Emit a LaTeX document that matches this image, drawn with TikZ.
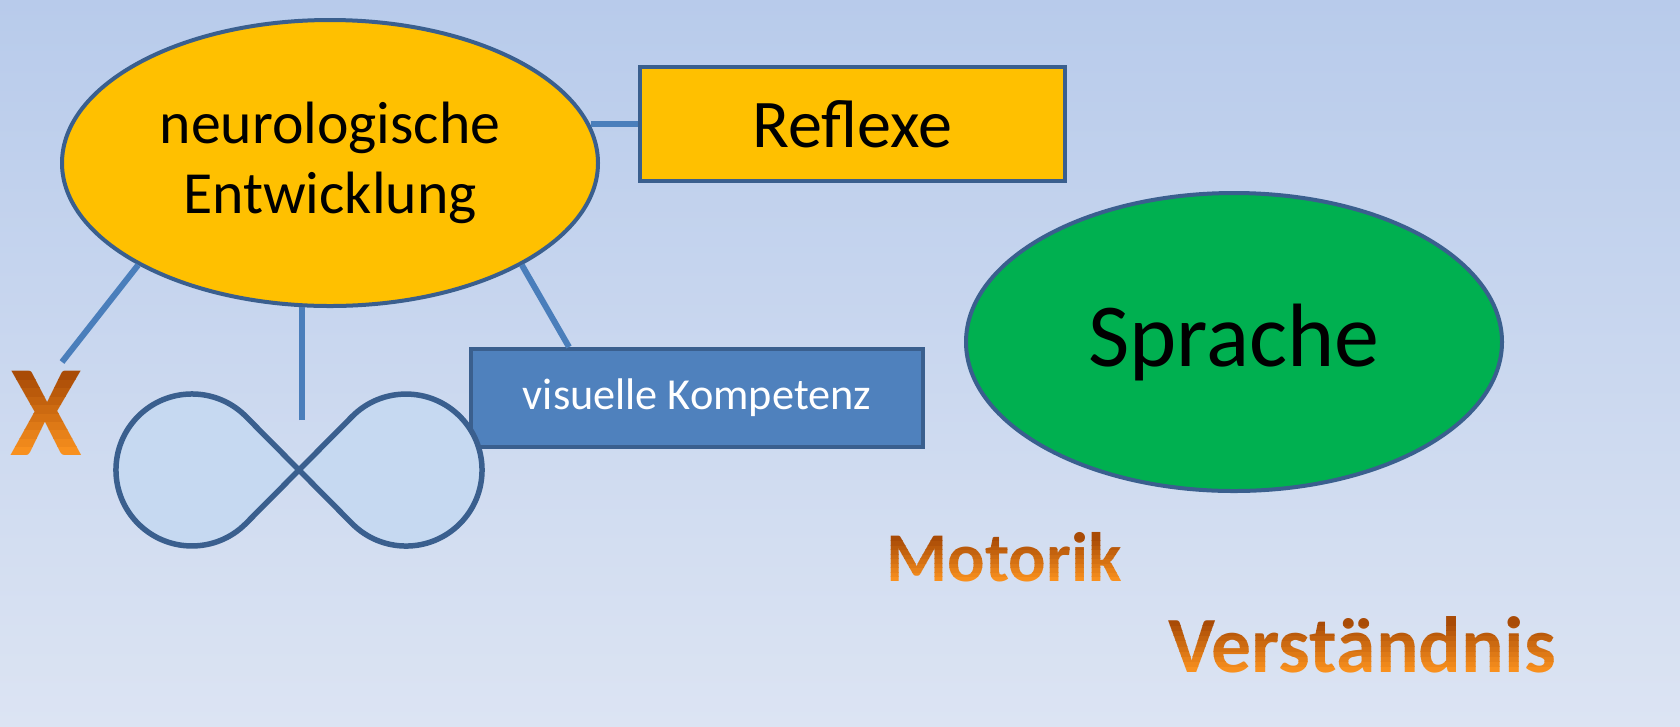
\documentclass[tikz,border=0pt]{standalone}
\usepackage{fontspec}
\setmainfont{Carlito}
\usepackage{tikz}
\usetikzlibrary{calc,shapes.geometric}
\definecolor{bgtop}{HTML}{B8CBEB}
\definecolor{bgbottom}{HTML}{DCE4F3}
\definecolor{blueline}{HTML}{3A5F8E}
\definecolor{bluelink}{HTML}{4A7EBB}
\definecolor{bluebox}{HTML}{4F81BD}
\definecolor{infinityfill}{HTML}{C6D9F1}
\definecolor{gold}{HTML}{FFC000}
\definecolor{leafgreen}{HTML}{00B050}
\definecolor{orangetop}{HTML}{A84A06}
\definecolor{orangebottom}{HTML}{F8901E}
% word with a top-to-bottom colour ramp: name, position, font size, cap height, text
\def\gradword#1(#2)#3#4#5{
	\foreach \i in {0,...,9} {
		\pgfmathsetmacro{\lowy}{ifthenelse(\i==0, -1, #4*\i/10)}
		\pgfmathsetmacro{\highy}{ifthenelse(\i==9, 2, #4*(\i+1)/10)}
		\pgfmathtruncatemacro{\mixval}{\i*11}
		\begin{scope}
			\clip ($(#2)+(-4, \lowy)$) rectangle ($(#2)+(4, \highy)$);
			\node[anchor=base, inner sep=0pt, text=orangetop!\mixval!orangebottom,
				font=\fontsize{#3}{#3}\bfseries] (#1-\i) at (#2) {#5};
		\end{scope}
	}
}

\begin{document}
\begin{tikzpicture}[
		bubble/.style={ellipse, draw=blueline, line width=0.4mm, inner sep=0pt},
		box/.style={rectangle, draw=blueline, line width=0.4mm, inner sep=0pt},
		link/.style={draw=bluelink, line width=0.6mm}
	]
		%%%%% START %%%%%
		
		\useasboundingbox (0, 0) rectangle (16.8, 7.26);
		\shade[top color=bgtop, bottom color=bgbottom] (0, 0) rectangle (16.8, 7.26);
		
		\node[bubble, fill=gold, minimum width=5.36cm, minimum height=2.86cm, align=center,
			font=\fontsize{17}{20}\selectfont] (neuro) at (3.30, 5.63) {neurologische\\Entwicklung};
		\node[box, fill=gold, minimum width=4.25cm, minimum height=1.14cm,
			font=\fontsize{19.4}{23}\selectfont] (reflexe) at (8.525, 6.02) {Reflexe};
		\node[bubble, fill=leafgreen, minimum width=5.36cm, minimum height=2.98cm,
			font=\fontsize{25.6}{30}\selectfont] (sprache) at (12.34, 3.84) {Sprache};
		\node[box, fill=bluebox, text=white, minimum width=4.52cm, minimum height=0.98cm,
			font=\fontsize{12.6}{15}\selectfont] (visuell) at (6.97, 3.28) {visuelle Kompetenz};
		
		\coordinate (xend) at (0.62, 3.64);
		\coordinate (inftytop) at (3.02, 3.06);
		
		\draw[link] (reflexe.west) -- (neuro.8.6 |- reflexe.west);
		\draw[link] (inftytop) -- (inftytop |- neuro.-101.2);
		\draw[link] (neuro.-28.4) -- ($(visuell.north west)+(1.00, 0)$);
		\draw[link] (neuro.-152) -- (xend);
		
		% infinity
		\draw[line width=0.55mm, draw=blueline, fill=infinityfill, line join=round]
			(2.99, 2.56) -- (3.523, 3.097) arc (135:-135:0.76)
			-- (2.99, 2.56) -- (2.457, 2.023) arc (-45:-315:0.76) -- cycle;
		
		\gradword xmark(0.46, 2.71){37}{0.84}{X}
		\gradword motorik(10.04, 1.45){19.9}{0.45}{Motorik}
		\gradword verstand(13.62, 0.54){22.7}{0.52}{Verständnis}
		
		%%%%% END %%%%%
	\end{tikzpicture}
\end{document}
